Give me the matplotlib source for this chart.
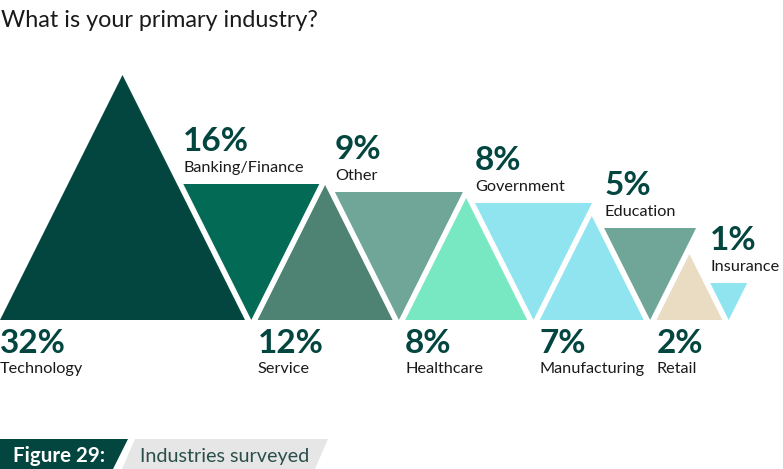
import matplotlib
matplotlib.use('Agg')
import matplotlib.pyplot as plt
from matplotlib.patches import Polygon

# data
industries = ['Technology', 'Banking/Finance', 'Service', 'Other', 'Healthcare',
              'Government', 'Manufacturing', 'Education', 'Retail', 'Insurance']
shares = [32, 16, 12, 9, 8, 8, 7, 5, 2, 1]
pct_labels = [f'{v}%' for v in shares]

# layout: the designer's triangle sizes (px), not linear in the share
tri_size = [245, 136, 135, 128, 122, 117, 104, 92, 66, 37]
colors = ['#02463f', '#036a56', '#4e8272', '#6fa698', '#77e8c2',
          '#8fe4f0', '#8fe4f0', '#6fa698', '#e9dcc3', '#8fe4f0']

W, H = 783, 469
base_y = 320
gap = 6.3
num_col = '#02463f'
txt_col = '#1a1a1a'
font = ['Lato', 'DejaVu Sans']

fig = plt.figure(figsize=(W / 100, H / 100), dpi=100)
ax = fig.add_axes([0, 0, 1, 1])
ax.set_xlim(0, W)
ax.set_ylim(H, 0)
ax.axis('off')

ax.text(1, 27, 'What is your primary industry?', fontsize=16.8, family=font,
        color=txt_col, va='baseline')

x = 0.0  # running position on the baseline
for i, (name, lab, s, c) in enumerate(zip(industries, pct_labels, tri_size, colors)):
    if i % 2 == 0:
        # pointing up: base on baseline
        pts = [(x, base_y), (x + s, base_y), (x + s / 2, base_y - s)]
        ax.add_patch(Polygon(pts, closed=True, fc=c, ec='none'))
        ax.text(x, 353, lab, fontsize=24, fontweight='bold', family=font,
                color=num_col, va='baseline')
        ax.text(x, 373, name, fontsize=11.7, family=font, color=txt_col,
                va='baseline')
        x = x + s + gap
    else:
        # pointing down: apex on baseline
        left = x - s / 2
        top = base_y - s
        pts = [(left, top), (left + s, top), (x, base_y)]
        ax.add_patch(Polygon(pts, closed=True, fc=c, ec='none'))
        ax.text(left, top - 12, name, fontsize=11.7, family=font,
                color=txt_col, va='baseline')
        ax.text(left, top - 33, lab, fontsize=24, fontweight='bold',
                family=font, color=num_col, va='baseline')
        x = x + gap

# figure caption strip
ax.add_patch(Polygon([(0, 439), (128, 439), (113, 469), (0, 469)], closed=True,
                     fc='#02463f', ec='none'))
ax.add_patch(Polygon([(135, 439), (328, 439), (315, 469), (122, 469)], closed=True,
                     fc='#e6e6e6', ec='none'))
ax.text(13, 462, 'Figure 29:', fontsize=14.8, fontweight='bold', family=font,
        color='white', va='baseline')
ax.text(140, 462, 'Industries surveyed', fontsize=14.2, family=font,
        color='#2a4f4a', va='baseline')

fig.savefig('out.png', dpi=100)
